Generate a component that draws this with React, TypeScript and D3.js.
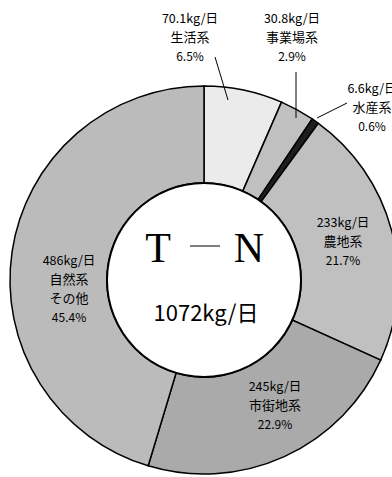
import React from "react";
import * as d3 from "d3";

const categories = ["生活系", "事業場系", "水産系", "農地系", "市街地系", "自然系その他"];
const loads = [70.1, 30.8, 6.6, 233, 245, 486];
const loadLabels = ["70.1kg/日", "30.8kg/日", "6.6kg/日", "233kg/日", "245kg/日", "486kg/日"];
const percents = ["6.5%", "2.9%", "0.6%", "21.7%", "22.9%", "45.4%"];
const nameLines = [["生活系"], ["事業場系"], ["水産系"], ["農地系"], ["市街地系"], ["自然系", "その他"]];
const colors = ["#ebebeb", "#c0c0c0", "#1e1e1e", "#c0c0c0", "#aaaaaa", "#bbbbbb"];
const totalLabel = "1072kg/日";

const W = 392, H = 477;
const cx = 204, cy = 280, rOuter = 194, rInner = 97;

// label anchor positions (centers)
const labelPos: { x: number; y: number; anchor: string }[] = [
  { x: 190, y: 17, anchor: "middle" },
  { x: 292, y: 17, anchor: "middle" },
  { x: 372, y: 87, anchor: "middle" },
  { x: 343, y: 221, anchor: "middle" },
  { x: 275, y: 385, anchor: "middle" },
  { x: 69, y: 259, anchor: "middle" },
];
const leaders: [number, number, number, number][] = [
  [215, 57, 228, 100],
  [296, 72, 296, 118],
  [317, 118, 347, 103],
];

export default function App() {
  const pie = d3.pie<number>().sort(null).value((d) => d).startAngle(0).endAngle(2 * Math.PI);
  const arcs = pie(loads);
  const arc = d3.arc<d3.PieArcDatum<number>>().innerRadius(rInner).outerRadius(rOuter);
  const font = "'Noto Sans CJK JP', 'Noto Sans', sans-serif";
  return (
    <svg width={W} height={H} style={{ position: "absolute", left: 0, top: 0, background: "#fff" }}>
      <g transform={`translate(${cx},${cy})`}>
        {arcs.map((a, i) => (
          <path key={categories[i]} d={arc(a) || ""} fill={colors[i]} stroke="#000" strokeWidth={1.5} />
        ))}
        <circle r={rInner} fill="#fff" stroke="#000" strokeWidth={2} />
      </g>
      {leaders.map((l, i) => (
        <line key={i} x1={l[0]} y1={l[1]} x2={l[2]} y2={l[3]} stroke="#000" strokeWidth={1} />
      ))}
      {labelPos.map((p, i) => {
        const lines = [loadLabels[i], ...nameLines[i], percents[i]];
        return (
          <g key={i} fontFamily={font} fill="#000">
            {lines.map((t, j) => {
              const isName = j > 0 && j < lines.length - 1;
              const isPct = j === lines.length - 1;
              return (
                <text
                  key={j}
                  x={p.x}
                  y={p.y + j * 19}
                  textAnchor={p.anchor as any}
                  dominantBaseline="central"
                  fontSize={isName ? 13 : isPct ? 12 : 12.5}
                >
                  {t}
                </text>
              );
            })}
          </g>
        );
      })}
      <g fontFamily="'Liberation Serif', 'DejaVu Serif', serif" fill="#000">
        <text x={158} y={248} textAnchor="middle" dominantBaseline="central" fontSize={42}>T</text>
        <line x1={190} y1={246} x2={220} y2={246} stroke="#000" strokeWidth={1} />
        <text x={249} y={248} textAnchor="middle" dominantBaseline="central" fontSize={42}>N</text>
      </g>
      <text x={206} y={311} textAnchor="middle" dominantBaseline="central" fontSize={22} fontFamily={font}>
        {totalLabel}
      </text>
    </svg>
  );
}
